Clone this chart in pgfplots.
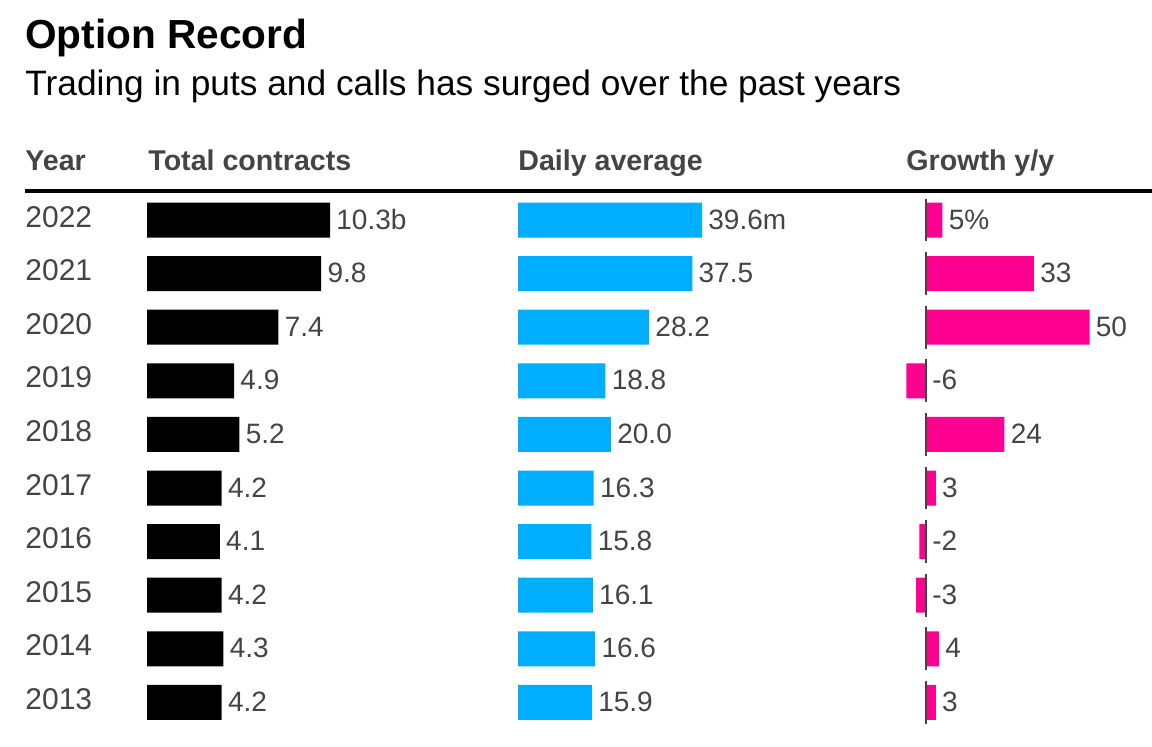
\documentclass[border=0pt]{standalone}
\usepackage{fontspec}
\setmainfont{Liberation Sans}
\usepackage{pgfplots}
\pgfplotsset{compat=1.18}
\usepackage{pgfplotstable}

\definecolor{txt}{HTML}{444444}
\definecolor{blu}{HTML}{00AEFF}
\definecolor{pnk}{HTML}{FF0090}

% row 0 = 2022 (top)
\pgfplotstableread{
row year total totlab daily dailab growth grolab
0 2022 10.3 10.3b 39.6 39.6m 5  5\%
1 2021 9.8  9.8   37.5 37.5  33 33
2 2020 7.4  7.4   28.2 28.2  50 50
3 2019 4.9  4.9   18.8 18.8  -6 -6
4 2018 5.2  5.2   20.0 20.0  24 24
5 2017 4.2  4.2   16.3 16.3  3  3
6 2016 4.1  4.1   15.8 15.8  -2 -2
7 2015 4.2  4.2   16.1 16.1  -3 -3
8 2014 4.3  4.3   16.6 16.6  4  4
9 2013 4.2  4.2   15.9 15.9  3  3
}\data

\pgfplotsset{
  rowax/.style={scale only axis, height=268pt, ymin=-0.5, ymax=9.5,
    y dir=reverse, hide axis, clip=false, anchor=north west},
  vallab/.style={nodes near coords, point meta=explicit symbolic,
    nodes near coords style={anchor=base west, inner sep=0pt, xshift=3pt,
      yshift=-4.5pt, text=txt, font=\fontsize{14}{16}\selectfont}},
}

\begin{document}
\begin{tikzpicture}
\path[use as bounding box] (0,0) rectangle (576pt,-373pt);

\node[anchor=base west, inner sep=0pt, font=\fontsize{20.3}{24}\selectfont\bfseries]
  at (12.5pt,-24pt) {Option Record};
\node[anchor=base west, inner sep=0pt, font=\fontsize{17.65}{21}\selectfont]
  at (12.5pt,-47.5pt) {Trading in puts and calls has surged over the past years};

\begin{scope}[every node/.style={anchor=base west, inner sep=0pt, text=txt,
    font=\fontsize{14.3}{17}\selectfont\bfseries}]
  \node at (12.5pt,-85.25pt) {Year};
  \node at (74pt,-85.25pt) {Total contracts};
  \node at (259pt,-85.25pt) {Daily average};
  \node at (453pt,-85.25pt) {Growth y/y};
\end{scope}
\draw[line width=2pt] (12.5pt,-95.5pt) -- (576pt,-95.5pt);

% total contracts
\begin{axis}[rowax, at={(73.5pt,-96.6pt)}, width=91.5pt, xmin=0, xmax=10.3]
\addplot[xbar, bar width=17.5pt, fill=black, draw=none, vallab]
  table[x=total, y=row, meta=totlab] {\data};
\addplot[draw=none, nodes near coords, point meta=explicit symbolic,
  nodes near coords style={anchor=base west, inner sep=0pt, xshift=-61pt,
    yshift=-3.5pt, text=txt, font=\fontsize{15}{17}\selectfont}]
  table[x expr=0, y=row, meta=year] {\data};
\end{axis}

% daily average
\begin{axis}[rowax, at={(259pt,-96.6pt)}, width=92pt, xmin=0, xmax=39.6]
\addplot[xbar, bar width=17.5pt, fill=blu, draw=none, vallab]
  table[x=daily, y=row, meta=dailab] {\data};
\end{axis}

% growth y/y
\begin{axis}[rowax, at={(446.65pt,-96.6pt)}, width=114.45pt, xmin=-10, xmax=60]
\addplot[xbar, bar width=17.5pt, fill=pnk, draw=none]
  table[x=growth, y=row] {\data};
\addplot[draw=none, vallab]
  table[x expr={max(\thisrow{growth},0)}, y=row, meta=grolab] {\data};
\addplot[draw=txt, line width=1pt, unbounded coords=jump] coordinates {
  (0,-0.4) (0,0.4) (0,nan) (0,0.6) (0,1.4) (0,nan) (0,1.6) (0,2.4) (0,nan)
  (0,2.6) (0,3.4) (0,nan) (0,3.6) (0,4.4) (0,nan) (0,4.6) (0,5.4) (0,nan)
  (0,5.6) (0,6.4) (0,nan) (0,6.6) (0,7.4) (0,nan) (0,7.6) (0,8.4) (0,nan)
  (0,8.6) (0,9.4)};
\end{axis}
\end{tikzpicture}
\end{document}
